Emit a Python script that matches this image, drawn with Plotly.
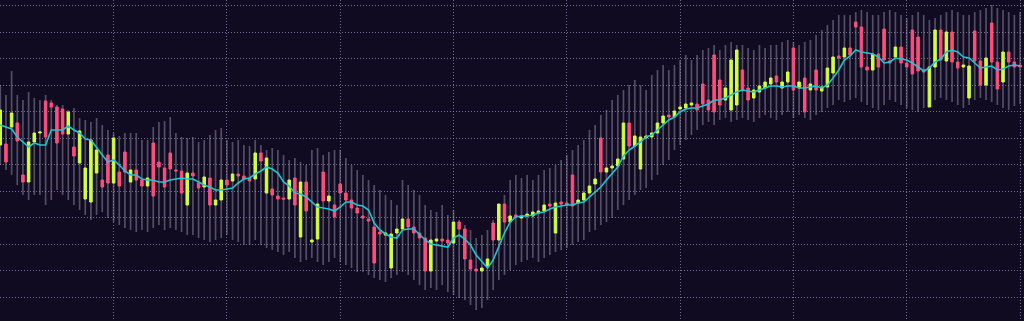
import plotly.graph_objects as go

# Price scale: arbitrary units
opens = [176,177,194,198,146,139,179,188,220,218,214,212,187,174,158,122,119,148,141,166,
         138,149,169,139,151,141,135,178,159,153,168,151,150,116,148,138,134,143,116,121,
         141,140,147,145,143,142,168,128,132,125,123,122,143,84,139,79,82,149,120,116,
         137,128,121,113,105,102,94,89,86,53,88,92,102,94,88,83,50,80,82,81,
         78,99,92,61,52,50,55,98,81,117,99,106,103,105,105,108,110,117,88,119,
         118,146,118,121,128,137,183,149,153,155,162,198,175,152,183,184,188,198,206,204,
         212,213,216,217,237,221,266,241,221,211,216,251,233,223,229,233,237,245,233,239,
         273,233,243,231,251,230,234,248,265,264,273,299,294,254,251,267,292,260,264,274,
         258,291,284,251,214,254,291,260,289,259,254,223,290,260,236,298,259,239,269,259,
         256]
closes = [211,159,208,180,139,179,188,189,184,214,178,187,209,165,190,153,181,171,134,138,
          183,135,149,151,141,135,143,125,154,134,152,150,128,148,145,133,144,116,121,141,
          136,147,145,142,140,168,160,163,126,122,122,141,116,139,110,81,117,120,125,104,
          128,121,113,108,103,100,58,87,88,87,92,102,94,88,83,50,81,82,80,78,
          99,92,62,52,50,53,62,81,117,99,105,104,105,107,109,110,116,115,118,117,
          116,115,121,128,135,142,149,153,155,162,198,175,185,184,185,188,198,205,204,210,
          214,217,218,211,217,211,209,216,233,261,271,231,221,231,235,239,243,239,239,249,
          231,239,209,237,231,234,253,264,263,273,266,294,254,251,267,254,261,258,274,258,
          254,247,250,249,254,291,261,289,259,253,256,255,260,236,263,259,232,269,259,254,
          254]
band_high = [236,226,250,226,221,229,223,221,226,221,216,216,211,213,203,201,199,203,196,191,
             188,185,188,188,188,181,181,194,199,200,204,188,184,183,184,179,181,186,191,193,
             181,179,181,176,175,181,176,171,173,171,166,161,163,159,156,171,173,166,169,171,
             171,163,156,151,146,141,136,131,126,121,116,141,136,131,126,116,111,109,116,106,
             111,101,96,91,83,86,91,101,116,126,141,146,143,146,141,146,151,153,156,161,
             166,171,176,181,191,196,206,211,221,226,231,236,241,236,231,246,251,256,251,256,
             261,266,261,266,271,273,276,271,276,279,276,276,273,271,276,273,276,276,279,281,
             279,276,279,281,286,291,296,301,306,306,306,309,311,309,306,306,309,311,309,306,
             303,306,309,306,301,303,306,309,311,309,306,306,309,311,313,316,313,311,309,306,
             309]
band_low = [156,151,146,136,126,121,126,126,116,121,131,126,121,116,111,106,101,106,109,103,
            99,96,93,91,89,91,89,93,96,91,93,91,89,86,86,83,81,79,81,83,
            86,81,79,76,76,81,76,73,71,69,66,69,63,59,61,63,59,56,59,63,
            59,56,53,49,49,46,43,41,39,43,46,49,46,41,36,31,33,31,36,29,
            26,23,21,16,11,13,21,31,41,46,51,56,59,61,63,59,63,66,69,71,
            73,76,79,81,89,91,96,99,103,111,116,121,126,131,133,141,146,156,161,171,
            176,181,186,191,196,199,196,201,203,199,201,203,201,199,203,206,203,201,206,209,
            203,206,203,201,206,209,213,216,221,219,221,223,219,216,213,211,216,221,219,216,
            213,211,209,213,216,221,223,221,219,216,213,216,221,223,221,219,216,213,211,215,
            217]
moving_avg = [196,194,192,184,179,174,178,176,176,191,191,191,195,191,188,182,181,173,166,159,
              161,156,150,146,146,142,141,141,139,139,141,142,143,142,142,139,136,134,131,131,
              132,133,138,142,143,147,150,154,152,148,139,135,128,127,124,119,114,113,112,110,
              114,119,119,116,115,111,98,91,87,84,83,91,92,92,86,81,77,76,75,74,
              83,86,82,76,66,59,53,61,74,88,99,104,105,105,106,108,109,112,114,115,
              116,116,118,119,124,129,134,141,148,154,165,171,175,179,184,186,191,196,201,204,
              209,212,213,213,215,217,221,221,223,226,229,231,230,229,231,233,235,235,234,235,
              235,233,233,234,235,233,236,243,251,261,265,271,269,268,267,264,258,259,263,262,
              261,258,254,250,253,259,262,269,271,269,264,263,258,253,254,255,251,252,255,256,
              255]

x = list(range(len(opens)))
body_top = [max(o, c) for o, c in zip(opens, closes)]
body_bot = [min(o, c) for o, c in zip(opens, closes)]

BG = "#110b21"
PINK = "#ff4d7e"
LIME = "#d2ff3c"
CYAN = "#1fc6d2"

fig = go.Figure()
fig.add_trace(go.Bar(
    x=x, base=band_low, y=[h - l for h, l in zip(band_high, band_low)],
    width=0.3, marker=dict(color="rgba(150,145,170,0.5)", line=dict(width=0)),
    hoverinfo="skip", showlegend=False))
fig.add_trace(go.Candlestick(
    x=x, open=opens, high=body_top, low=body_bot, close=closes,
    increasing=dict(line=dict(color=LIME, width=1), fillcolor=LIME),
    decreasing=dict(line=dict(color=PINK, width=1), fillcolor=PINK),
    whiskerwidth=0, showlegend=False))
fig.add_trace(go.Scatter(
    x=x, y=moving_avg, mode="lines", line=dict(color=CYAN, width=1.6),
    showlegend=False, hoverinfo="skip"))

grid_color = "rgba(140,132,172,0.8)"
fig.update_layout(
    width=1024, height=321, margin=dict(l=0, r=0, t=0, b=0),
    paper_bgcolor=BG, plot_bgcolor=BG, boxgap=0.36, barmode="overlay",
    xaxis=dict(range=[-0.05, 180.7], showticklabels=False, zeroline=False,
               showgrid=True, gridcolor=grid_color, griddash="1px,2px", gridwidth=1,
               tick0=0, dtick=20, rangeslider=dict(visible=False), ticks=""),
    yaxis=dict(range=[0, 321], showticklabels=False, zeroline=False,
               showgrid=True, gridcolor=grid_color, griddash="1px,2px", gridwidth=1,
               tick0=24, dtick=26.5, ticks=""),
)
fig.write_html("out.html")
